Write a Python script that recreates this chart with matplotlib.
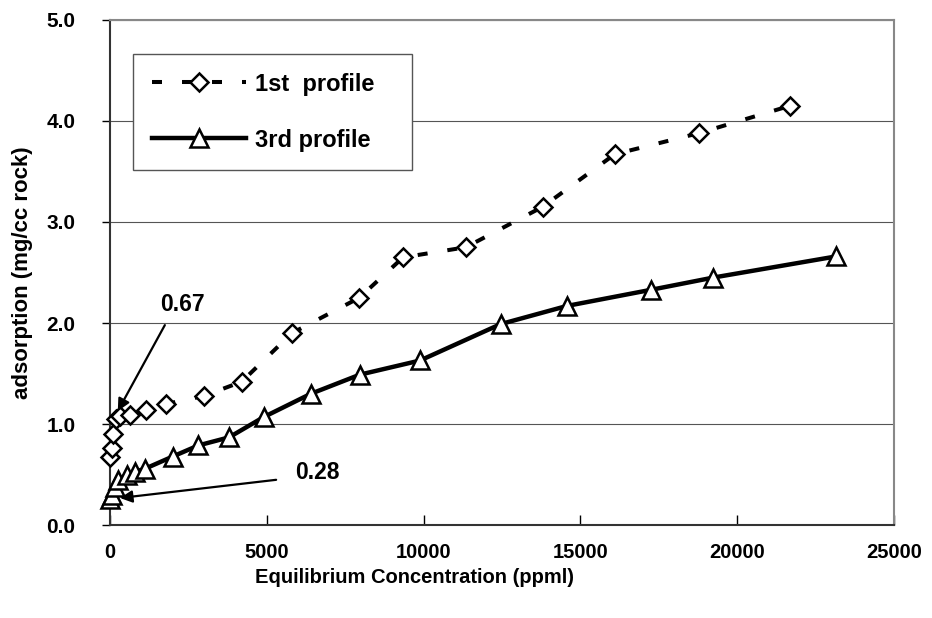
import numpy as np
import matplotlib.pyplot as plt

plt.rcParams['font.family'] = ['Liberation Sans', 'DejaVu Sans']
plt.rcParams['font.weight'] = 'bold'
plt.rcParams['lines.scale_dashes'] = False

# adsorption isotherms, concentration in ppml, adsorption in mg/cc rock
conc_1st = [0, 60, 110, 200, 320, 650, 1150, 1800, 3000, 4200, 5800, 7950,
            9350, 11350, 13800, 16100, 18800, 21700]
ads_1st = [0.68, 0.76, 0.90, 1.05, 1.08, 1.09, 1.14, 1.20, 1.28, 1.42, 1.90,
           2.25, 2.65, 2.75, 3.15, 3.67, 3.88, 4.15]

conc_3rd = [0, 50, 150, 270, 530, 800, 1120, 2000, 2820, 3800, 4900, 6400,
            7970, 9890, 12460, 14580, 17270, 19240, 23170]
ads_3rd = [0.26, 0.30, 0.38, 0.45, 0.50, 0.53, 0.56, 0.68, 0.79, 0.87, 1.07,
           1.30, 1.49, 1.63, 1.99, 2.17, 2.33, 2.45, 2.66]

# callouts: (label, text position, arrow tail, arrow head)
note_hi = ('0.67', (2300, 2.18), (1750, 1.98), (250, 1.13))
note_lo = ('0.28', (6600, 0.52), (5300, 0.45), (320, 0.27))

fig = plt.figure(figsize=(9.32, 6.18), dpi=100)
ax = fig.add_axes([0.118, 0.150, 0.841, 0.818])

ax.plot(conc_1st, ads_1st, color='black', lw=2.9, dashes=(7.2, 14.4),
        marker='D', markersize=9.5, mfc='white', mec='black', mew=1.8,
        label='1st  profile', zorder=3, clip_on=False)
ax.plot(conc_3rd, ads_3rd, color='black', lw=3.2, linestyle='-',
        marker='^', markersize=13, mfc='white', mec='black', mew=1.8,
        label='3rd profile', zorder=3, clip_on=False)

for label, txt, tail, head in (note_hi, note_lo):
    ax.annotate('', xy=head, xytext=tail,
                arrowprops=dict(arrowstyle='-|>', color='black', lw=1.6,
                                mutation_scale=18, shrinkA=0, shrinkB=0),
                zorder=4, annotation_clip=False)
    ax.text(txt[0], txt[1], label, fontsize=16.5, fontweight='bold',
            ha='center', va='center')

ax.set_xlim(0, 25000)
ax.set_ylim(0, 5)
ax.set_xticks(np.arange(0, 25001, 5000))
ax.set_yticks(np.arange(0, 5.01, 1.0))
ax.set_yticklabels(['%.1f' % v for v in np.arange(0, 5.01, 1.0)])
ax.yaxis.grid(True, color='#555555', lw=0.8)
ax.set_axisbelow(True)

ax.tick_params(axis='x', direction='in', length=7, width=1, pad=13,
               labelsize=14.5)
ax.tick_params(axis='y', direction='out', length=6, width=1, pad=19,
               labelsize=15)
for lab in ax.get_xticklabels() + ax.get_yticklabels():
    lab.set_fontweight('bold')

for side in ('left', 'bottom'):
    ax.spines[side].set_color('#333333')
    ax.spines[side].set_linewidth(1.5)
for side in ('top', 'right'):
    ax.spines[side].set_color('#888888')
    ax.spines[side].set_linewidth(1.5)

ax.set_xlabel('Equilibrium Concentration (ppml)', fontsize=14.5,
              fontweight='bold')
ax.set_ylabel('adsorption (mg/cc rock)', fontsize=16, fontweight='bold')
ax.xaxis.set_label_coords(0.389, -0.085)
ax.yaxis.set_label_coords(-0.098, 0.5)

# legend box stretched to a fixed width
leg = ax.legend(loc='upper left', bbox_to_anchor=(0.029, 0.0, 0.356, 0.933),
                mode='expand', borderaxespad=0, fontsize=17,
                handlelength=4.0, handletextpad=0.4, labelspacing=1.4,
                borderpad=0.8, fancybox=False, framealpha=1,
                edgecolor='#555555')
leg.get_frame().set_linewidth(1.0)

fig.savefig('out.png', dpi=100)
